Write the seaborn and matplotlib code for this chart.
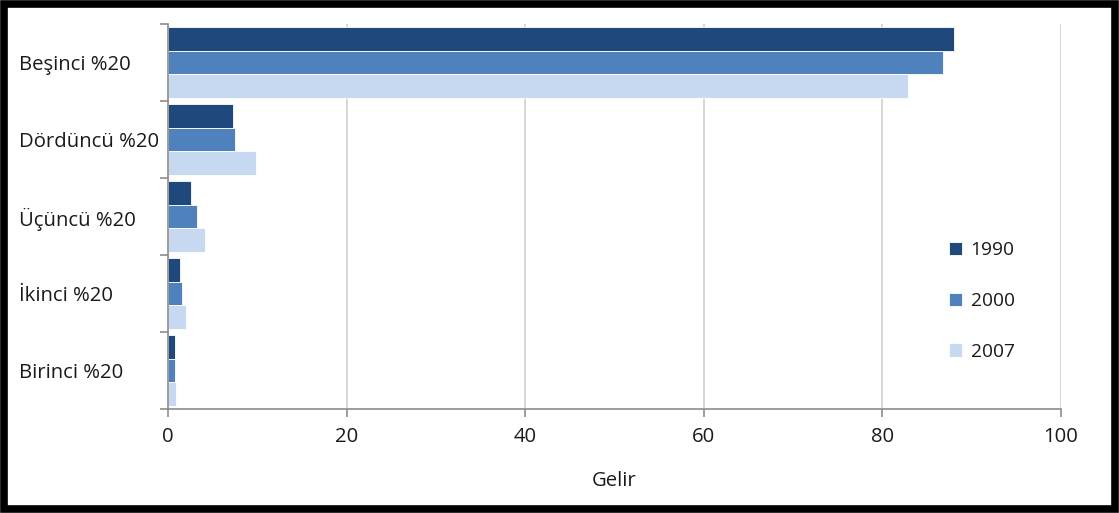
import matplotlib
matplotlib.use("Agg")
import matplotlib.pyplot as plt
import matplotlib.patches as mpatches
from matplotlib.ticker import FixedLocator
import numpy as np
import pandas as pd
import seaborn as sns

# Income share by quintile group
categories = ["Beşinci %20", "Dördüncü %20", "Üçüncü %20", "İkinci %20", "Birinci %20"]
years = ["1990", "2000", "2007"]
values_1990 = [88.0, 7.3, 2.6, 1.4, 0.75]
values_2000 = [86.8, 7.5, 3.2, 1.6, 0.8]
values_2007 = [82.9, 9.9, 4.2, 2.05, 0.95]
x_ticks = [0, 20, 40, 60, 80, 100]
x_label = "Gelir"

colors = ["#1F497D", "#4F81BD", "#C6D9F0"]
text_color = "#1a1a1a"
fs = 14.6
fs_leg = 13.8

df = pd.DataFrame({
    "kategori": categories * 3,
    "yil": [y for y in years for _ in categories],
    "gelir": values_1990 + values_2000 + values_2007,
})

sns.set_theme(style="white")
plt.rcParams["font.family"] = ["Open Sans", "DejaVu Sans"]

fig = plt.figure(figsize=(11.19, 5.13), dpi=100)
ax = fig.add_axes([0.1501, 0.2027, 0.948 - 0.1501, 0.953 - 0.2027])

sns.barplot(
    data=df, y="kategori", x="gelir", hue="yil",
    order=categories, hue_order=years, palette=colors,
    orient="h", width=0.92, ax=ax, saturation=1,
    edgecolor="white", linewidth=0.6,
)

ax.set_xlim(0, 100)
ax.set_ylim(len(categories) - 0.5, -0.5)
ax.set_xticks(x_ticks)
ax.set_xticklabels([str(t) for t in x_ticks], fontsize=fs, color=text_color)
ax.xaxis.grid(True, color="#D0D0D0", linewidth=1.2)
ax.set_axisbelow(True)

# category labels left-aligned near the frame edge
ax.set_yticks(range(len(categories)))
ax.set_yticklabels(categories, fontsize=fs, color=text_color)
ax.tick_params(axis="y", which="major", length=0, pad=0)
for lbl in ax.get_yticklabels():
    lbl.set_horizontalalignment("left")
    lbl.set_x(-0.167)
ax.yaxis.set_minor_locator(FixedLocator(np.arange(-0.5, len(categories), 1.0)))
ax.tick_params(axis="y", which="minor", length=6, color="#8C8C8C", width=1.2, left=True)
ax.tick_params(axis="x", which="major", length=6, color="#8C8C8C", width=1.2, bottom=True, pad=7)

for side in ["top", "right"]:
    ax.spines[side].set_visible(False)
for side in ["left", "bottom"]:
    ax.spines[side].set_color("#8C8C8C")
    ax.spines[side].set_linewidth(1.2)

ax.set_xlabel(x_label, fontsize=fs, color=text_color, labelpad=17)
ax.set_ylabel("")

leg = ax.legend(
    loc="center left", bbox_to_anchor=(0.855, 0.2805), frameon=False,
    fontsize=fs_leg, handlelength=0.7, handleheight=0.7,
    handletextpad=0.45, labelspacing=1.7,
)
for t in leg.get_texts():
    t.set_color(text_color)

# outer black frame
fig.patches.append(mpatches.Rectangle(
    (0.0035, 0.007), 0.993, 0.986, transform=fig.transFigure,
    fill=False, edgecolor="black", linewidth=5.5))

fig.savefig("out.png", dpi=100)
